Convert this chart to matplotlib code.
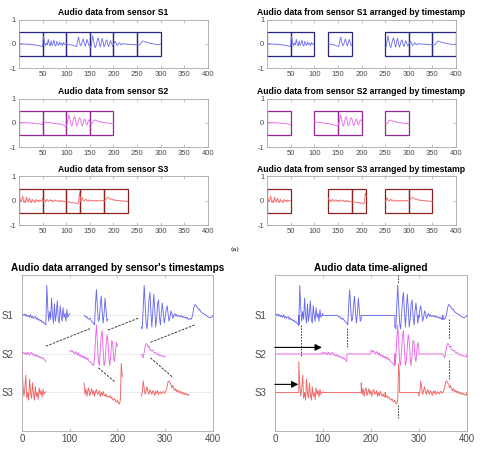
import matplotlib.pyplot as plt
from matplotlib.patches import Rectangle
import numpy as np

plt.rcParams['font.family'] = ['Liberation Sans', 'DejaVu Sans']

# waveform chunks, one value every 2 samples (bottom-panel scale)
s1_a = [0.05, 0.03, 0.0, 0.04, -0.02, 0.02, -0.03, 0.0, -0.05, 0.02, -0.06, -0.02, -0.08,
        -0.04, -0.03, -0.1, -0.06, -0.12, -0.1, -0.14, -0.12, -0.18, -0.16, -0.2, -0.22, -0.25]
s1_b = [-0.25, 0.78, 0.2, -0.15, 0.1, -0.1, 0.45, 0.0, -0.2, 0.3, -0.15, 0.05, 0.38,
        -0.1, -0.2, 0.25, 0.0, -0.15, 0.2, -0.05, 0.05, -0.15, 0.15, -0.05, 0.0, 0.05]
s1_c = [0.0, -0.02, -0.05, -0.03, -0.08, -0.1, -0.07, -0.12, -0.15, -0.18, -0.2, -0.25, 0.3,
        0.67, 0.2, -0.15, -0.1, 0.25, 0.5, 0.1, -0.2, 0.05, 0.45, 0.15, -0.15, -0.1]
s1_d = [-0.3, -0.35, 0.2, 0.78, 0.3, -0.2, -0.35, 0.0, 0.4, 0.6, 0.1, -0.3, 0.1,
        0.55, 0.2, -0.3, -0.1, 0.3, 0.4, -0.05, -0.25, 0.1, 0.32, 0.05, -0.2, -0.05]
s1_e = [-0.05, 0.15, 0.25, 0.05, -0.15, -0.05, 0.12, 0.05, -0.08, 0.0, 0.05, -0.02, 0.02,
        -0.03, 0.0, -0.02, -0.04, 0.0, -0.05, -0.03, -0.06, -0.04, -0.08, -0.05, -0.1, -0.1]
s1_f = [-0.1, -0.08, -0.1, -0.05, 0.05, 0.2, 0.28, 0.27, 0.22, 0.2, 0.15, 0.16, 0.1,
        0.08, 0.06, 0.05, 0.03, 0.02, 0.0, -0.02, -0.04, -0.05, -0.06, -0.05, -0.04, 0.0]

s2_a = [0.05, 0.02, 0.04, 0.0, 0.03, -0.02, 0.05, 0.0, -0.03, 0.02, 0.04, -0.02, 0.0,
        -0.05, -0.02, -0.06, -0.03, -0.08, -0.06, -0.1, -0.08, -0.12, -0.1, -0.14, -0.16, -0.2]
s2_b = [0.08, 0.1, 0.05, 0.08, 0.03, 0.0, 0.06, 0.02, -0.03, 0.03, -0.05, -0.02, -0.08,
        -0.04, -0.1, -0.06, -0.12, -0.08, -0.15, -0.12, -0.18, -0.2, -0.22, -0.25, -0.28, -0.3]
s2_c = [-0.3, -0.1, 0.4, 0.75, 0.3, -0.2, -0.3, 0.1, 0.5, 0.6, 0.1, -0.3, -0.2,
        0.2, 0.5, 0.35, -0.1, -0.3, 0.0, 0.35, 0.3, -0.1, -0.2, 0.1, 0.3, 0.2]
s2_d = [0.0, -0.05, -0.1, 0.05, 0.2, 0.27, 0.25, 0.18, 0.2, 0.12, 0.1, 0.08, 0.1,
        0.05, 0.02, 0.04, 0.0, -0.02, 0.0, -0.04, -0.05, -0.04, -0.06, -0.05, -0.08, -0.06]

s3_a = [0.8, 0.2, -0.1, 0.1, 0.45, -0.15, 0.0, -0.2, 0.35, 0.0, -0.15, 0.25, -0.05,
        -0.2, 0.15, -0.1, 0.0, -0.18, 0.12, -0.05, 0.05, -0.12, 0.08, -0.05, 0.0, 0.02]
s3_b = [0.25, -0.05, 0.1, -0.1, 0.05, 0.12, -0.08, 0.0, 0.1, -0.05, 0.05, -0.1, 0.02,
        0.08, -0.05, -0.02, 0.05, -0.1, 0.0, -0.08, 0.03, -0.06, -0.1, -0.04, -0.12, -0.1]
s3_c = [-0.1, -0.12, -0.08, -0.15, -0.12, -0.18, -0.2, -0.16, -0.22, -0.25, -0.2, -0.28,
        -0.3, -0.2, 0.75, 0.4]
s3_d = [-0.1, 0.0, 0.3, 0.1, -0.05, 0.05, 0.15, 0.0, -0.05, 0.08, 0.02, -0.05, 0.05,
        0.0, -0.08, 0.03, -0.02, 0.05, -0.05, 0.0, 0.02, -0.04, 0.0, 0.03, -0.02, 0.0]
s3_e = [0.0, 0.05, 0.15, 0.28, 0.3, 0.25, 0.22, 0.12, 0.18, 0.1, 0.05, 0.1, 0.02,
        0.06, 0.0, 0.04, -0.02, 0.02, -0.04, 0.0, -0.05, -0.02, -0.06, -0.04, -0.08, -0.05]

sensors = ['S1', 'S2', 'S3']
chunks = {'S1': [s1_a, s1_b, s1_c, s1_d, s1_e, s1_f],
          'S2': [s2_a, s2_b, s2_c, s2_d],
          'S3': [s3_a, s3_b, s3_c, s3_d, s3_e]}
lengths = {'S1': [50, 50, 50, 50, 50, 50],
           'S2': [50, 50, 50, 50],
           'S3': [50, 50, 30, 50, 50]}
# local start of each chunk and start given by its timestamp
raw_start = {'S1': [0, 50, 100, 150, 200, 250],
             'S2': [0, 50, 100, 150],
             'S3': [0, 50, 100, 130, 180]}
stamp_start = {'S1': [0, 50, 130, 250, 300, 350],
               'S2': [0, 100, 150, 250],
               'S3': [0, 130, 180, 250, 300]}
# shift found by alignment
shift = {'S1': 0, 'S2': 100, 'S3': 50}
offset = {'S1': 2, 'S2': 1, 'S3': 0}

line_col = {'S1': '#6a6af0', 'S2': '#e866e8', 'S3': '#f06464'}
box_col = {'S1': '#262687', 'S2': '#962896', 'S3': '#8a2222'}

# dashed links in the arranged panel: (x0, y0, x1, y1)
links = [(50, 1.2, 143, 1.66), (180, 1.62, 244, 1.93), (269, 1.30, 363, 1.76),
         (160, 0.64, 195, 0.27), (269, 0.90, 317, 0.38)]
# vertical alignment markers: (x, y0, y1)
markers = [(54, 1.74, 0.94), (150, 1.68, 1.17), (257, 3.05, 2.84), (257, -0.32, -0.67),
           (362, 1.90, 1.38), (362, 0.83, 0.36)]
# arrows showing applied shift: (sensor level y, length)
arrows = [(1.17, 98), (0.21, 49)]

top_scale = 0.43
spine_col = '#a8a8a8'
tick_col = '#4a4a4a'


def place(name, starts, scale=1.0):
    xs, ys = [], []
    prev_end = None
    for vals, st, ln in zip(chunks[name], starts, lengths[name]):
        if prev_end is not None and st != prev_end:
            xs.append(np.nan)
            ys.append(np.nan)
        xs.extend(np.linspace(st, st + ln, len(vals)))
        ys.extend(np.asarray(vals) * scale)
        prev_end = st + ln
    return np.array(xs), np.array(ys)


def aligned(name):
    xs, ys = [0.0], [0.0]
    starts = [s + shift[name] for s in stamp_start[name]]
    for vals, st, ln in zip(chunks[name], starts, lengths[name]):
        xs.append(st)
        ys.append(0.0)
        xs.extend(np.linspace(st, st + ln, len(vals)))
        ys.extend(vals)
        xs.append(st + ln)
        ys.append(0.0)
    xs.append(400)
    ys.append(0.0)
    return np.array(xs), np.array(ys)


def style(ax, fs):
    for s in ax.spines.values():
        s.set_color(spine_col)
        s.set_linewidth(0.6)
    ax.tick_params(direction='in', length=2, width=0.5, colors=spine_col,
                   labelcolor=tick_col, labelsize=fs, pad=2, top=True, right=True)


fig = plt.figure(figsize=(4.83, 4.54), dpi=100)

rows_bottom = [0.8496, 0.676, 0.5044]
for r, name in enumerate(sensors):
    for c, starts in enumerate([raw_start, stamp_start]):
        left = 0.0393 if c == 0 else 0.5528
        ax = fig.add_axes([left, rows_bottom[r], 0.3913, 0.107])
        x, y = place(name, starts[name], top_scale)
        ax.plot(x, y, color=line_col[name], lw=0.6)
        for st, ln in zip(starts[name], lengths[name]):
            ax.add_patch(Rectangle((st, -0.5), ln, 1.0, fill=False,
                                   edgecolor=box_col[name], lw=0.9))
        ax.set_xlim(0, 400)
        ax.set_ylim(-1, 1)
        ax.set_xticks(range(50, 401, 50))
        ax.set_yticks([-1, 0, 1], ['-1', '0', '1'])
        style(ax, 5.5)
        title = f'Audio data from sensor {name}'
        if c == 1:
            title += ' arranged by timestamp'
        ax.set_title(title, fontsize=6.2, fontweight='bold', pad=3.5)

fig.text(0.487, 0.451, '(a)', fontsize=4.5, family='DejaVu Serif', ha='center', va='center')

ax_l = fig.add_axes([0.0455, 0.0507, 0.3954, 0.3436])
ax_r = fig.add_axes([0.569, 0.0507, 0.3975, 0.3436])

for name in sensors:
    x, y = place(name, stamp_start[name])
    ax_l.plot(x, y + offset[name], color=line_col[name], lw=0.65)
    x, y = aligned(name)
    ax_r.plot(x, y + offset[name], color=line_col[name], lw=0.65)

for x0, y0, x1, y1 in links:
    ax_l.plot([x0, x1], [y0, y1], color='#222222', lw=0.6, ls=(0, (3, 1.5)))
for xm, y0, y1 in markers:
    ax_r.plot([xm, xm], [y0, y1], color='#222222', lw=0.6, ls=(0, (2, 1.5)), clip_on=False)
for ya, ln in arrows:
    ax_r.annotate('', xy=(ln, ya), xytext=(0, ya),
                  arrowprops=dict(arrowstyle='-|>', color='black', lw=0.8,
                                  mutation_scale=10, shrinkA=0, shrinkB=0))

for ax, title in [(ax_l, "Audio data arranged by sensor's timestamps"),
                  (ax_r, 'Audio data time-aligned')]:
    ax.set_xlim(0, 400)
    ax.set_ylim(-1, 3.05)
    ax.set_xticks(range(0, 401, 100))
    ax.set_yticks([offset[n] for n in sensors], sensors)
    ax.grid(axis='y', color='#e4e4e4', lw=0.5)
    ax.set_axisbelow(True)
    style(ax, 7)
    ax.tick_params(axis='y', length=0, pad=6)
    ax.set_title(title, fontsize=7.2, fontweight='bold', pad=3)

fig.savefig('out.png', dpi=100)
